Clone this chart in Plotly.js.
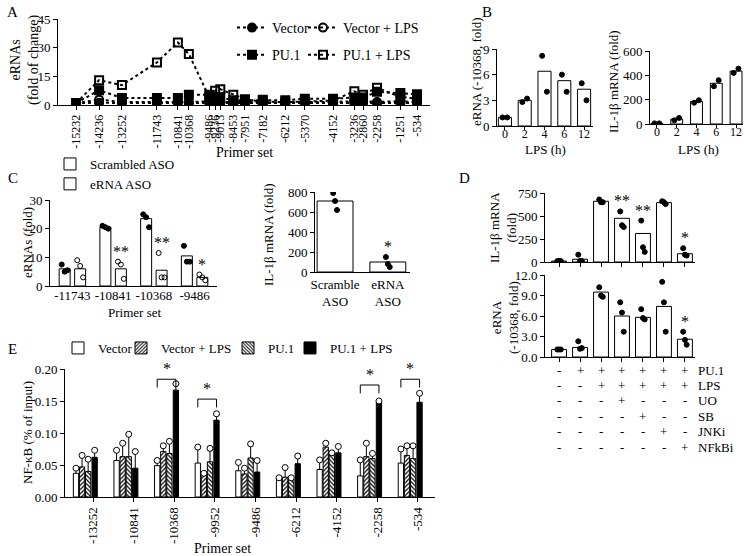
<!DOCTYPE html>
<html>
<head>
<meta charset="utf-8">
<script src="https://cdn.plot.ly/plotly-3.0.1.min.js"></script>
<style>body{margin:0;background:#fff}#chart{width:745px;height:556px}</style>
</head>
<body>
<div id="chart"></div>
<script>
// ---- Panel A: eRNAs along the locus
const primerA = [-15232,-14236,-13252,-11743,-10841,-10368,-9486,-9236,-9013,-8453,-7951,-7182,-6212,-5370,-4152,-3236,-2860,-2258,-1251,-534];
const vectorA    = [1,1.2,1,1,1,1,1,1,1,1,1,1,1,1,1,1,1,1,1,1];
const vectorLpsA = [1,2.8,1.6,1.6,1.5,1.5,2,2,1.6,1.5,1.5,1.5,1.5,1.5,1.6,2,2,1.6,2,1.5];
const pu1A       = [1,7.7,3.7,3.7,3.7,5.4,5.4,4.2,4,2.5,2.5,2.8,2.5,3.3,3.3,3.9,3.9,6.9,6.3,5.6];
const pu1LpsA    = [1,13,10.4,22.3,32.7,26.7,4,7.4,8.3,5.4,3,1.8,1.5,1.8,2.3,7.2,5.4,9,4.2,3.3];

// ---- Panel B: LPS time course
const lpsHours = ['0','2','4','6','12'];
const eRnaB = [1,3,6.4,5.3,4.3];
const eRnaBPts = [[1,1],[2.8,3.2],[8.2,4],[6,4],[5,3]];
const il1bB = [5,40,185,335,435];
const il1bBPts = [[5,5],[30,50],[175,195],[310,360],[420,455]];

// ---- Panel C: ASO knockdown
const primerC = ['-11743','-10841','-10368','-9486'];
const scrambledC = [6,20.5,23.5,10.5];
const scrambledCPts = [[7.5,5,5.5],[21,20.5,20],[25,24,20.5],[14,8.5,8.5]];
const asoC = [6,6,5.5,3];
const asoCPts = [[9,7,3],[8.5,7.5,2.5],[11.5,3,3],[4,3,2]];
const asoCStars = ['','**','**','*'];
const asoLabels = ['Scramble<br>ASO','eRNA<br>ASO'];
const il1bC = [710,100];
const il1bCPts = [[790,710,620],[150,80,50]];
const il1bCStars = ['','*'];

// ---- Panel D: inhibitors
const il1bD = [10,30,660,475,310,645,90];
const il1bDPts = [[10,10,10],[80,10,10],[680,650,650],[550,400,380],[450,160,110],[660,650,630],[150,80,70]];
const il1bDStars = ['','','','**','**','','*'];
const eRnaD = [1.1,1.4,9.5,6,5.8,7.4,2.6];
const eRnaDPts = [[1.1,1.1,1.1],[2.3,1.2,1.3],[10.2,9,8.8],[8,6.5,3.7],[7,5.7,5.5],[11,8,3.7],[3.7,2.5,1.8]];
const eRnaDStars = ['','','','','','','*'];
const treatRows = ['PU.1','LPS','UO','SB','JNKi','NFkBi'];
const treatSigns = [
  ['-','+','+','+','+','+','+'],
  ['-','-','+','+','+','+','+'],
  ['-','-','-','+','-','-','-'],
  ['-','-','-','-','+','-','-'],
  ['-','-','-','-','-','+','-'],
  ['-','-','-','-','-','-','+']
];

// ---- Panel E: NF-kB ChIP
const primerE = ['-13252','-10841','-10368','-9952','-9486','-6212','-4152','-2258','-534'];
const groupsE = ['Vector','Vector + LPS','PU.1','PU.1 + LPS'];
const meanE = [
  [0.037,0.057,0.049,0.053,0.041,0.030,0.043,0.033,0.053],
  [0.047,0.063,0.071,0.035,0.036,0.031,0.078,0.063,0.065],
  [0.040,0.063,0.068,0.055,0.061,0.028,0.065,0.060,0.060],
  [0.062,0.045,0.167,0.120,0.039,0.052,0.069,0.148,0.148]
];
const upperE = [
  [0.045,0.073,0.057,0.078,0.054,0.030,0.058,0.058,0.075],
  [0.065,0.084,0.080,0.037,0.045,0.046,0.084,0.084,0.080],
  [0.059,0.098,0.087,0.076,0.083,0.030,0.069,0.068,0.080],
  [0.073,0.071,0.177,0.130,0.057,0.064,0.079,0.150,0.162]
];
const sigE = [{g:2,y:0.184},{g:3,y:0.153},{g:7,y:0.175},{g:8,y:0.184}];

const FONT = 'Liberation Serif';
const W = 745, H = 556;
const dx = (a,b) => [a/W, b/W];
const dy = (top,bottom) => [1-bottom/H, 1-top/H];

function axis(extra) {
  return Object.assign({
    showline:true, linecolor:'#000', linewidth:1, ticks:'outside', ticklen:4,
    tickcolor:'#000', showgrid:false, zeroline:false, fixedrange:true,
    tickfont:{family:FONT, size:13, color:'#000'}
  }, extra);
}

const traces = [];
const annotations = [];
const shapes = [];

// Panel A traces
const seriesA = [
  {name:'Vector', y:vectorA, sym:'circle', legend:'legend'},
  {name:'PU.1', y:pu1A, sym:'square', legend:'legend'},
  {name:'Vector + LPS', y:vectorLpsA, sym:'circle-open', legend:'legend2'},
  {name:'PU.1 + LPS', y:pu1LpsA, sym:'square-open', legend:'legend2'}
];
seriesA.forEach((s,i) => {
  traces.push({
    type:'scatter', mode:'lines+markers', x:primerA, y:s.y, name:s.name,
    xaxis:'x', yaxis:'y', legend:s.legend, legendgroup:'a'+i,
    line:{color:'#000', width:2, dash:'dot'},
    marker:{symbol:s.sym, size:8, color:'#000', line:{color:'#000', width:2}}
  });
});

// simple bar panel helper
const jit = n => n === 2 ? [-0.12,0.12] : [-0.12,0,0.12];
function barPanel(ax, vals, pts, opts) {
  const xs = vals.map((v,i) => i + (opts.shift || 0));
  traces.push({
    type:'bar', x:xs, y:vals, width:opts.width, xaxis:'x'+ax, yaxis:'y'+ax,
    marker:{color:opts.fill || '#fff', line:{color:'#000', width:1}},
    showlegend:!!opts.name, name:opts.name, legend:opts.legend, hoverinfo:'y'
  });
  const px = [], py = [];
  pts.forEach((p,i) => {
    const j = jit(p.length);
    p.forEach((v,k) => { px.push(xs[i] + j[k]*(opts.jit || 1)); py.push(v); });
  });
  traces.push({
    type:'scatter', mode:'markers', x:px, y:py, xaxis:'x'+ax, yaxis:'y'+ax, showlegend:false,
    marker:{symbol:opts.open ? 'circle-open' : 'circle', size:5, color:'#000', line:{color:'#000', width:1}}
  });
  if (opts.stars) {
    opts.stars.forEach((s,i) => {
      if (!s) return;
      annotations.push({xref:'x'+ax, yref:'y'+ax, x:xs[i], y:Math.max(...pts[i]),
        text:s, showarrow:false, xanchor:'center', yanchor:'bottom',
        font:{family:FONT, size:16, color:'#000'}});
    });
  }
}

// Panel B
barPanel(2, eRnaB, eRnaBPts, {width:0.66});
barPanel(3, il1bB, il1bBPts, {width:0.6});
// Panel C
barPanel(4, scrambledC, scrambledCPts, {width:0.27, shift:-0.19, name:'Scrambled ASO', legend:'legend3', jit:0.6});
barPanel(4, asoC, asoCPts, {width:0.27, shift:0.19, name:'eRNA ASO', legend:'legend3', open:true, stars:asoCStars, jit:0.6});
barPanel(5, il1bC, il1bCPts, {width:0.68, stars:il1bCStars, jit:0.3});
// Panel D
barPanel(6, il1bD, il1bDPts, {width:0.71, stars:il1bDStars, jit:0.7});
barPanel(7, eRnaD, eRnaDPts, {width:0.71, stars:eRnaDStars, jit:0.7});

// Panel E
const centersE = [-0.42,-0.27,-0.12,0.04];
const widthE = 0.13;
const legendsE = ['legend4','legend5','legend6','legend7'];
const markE = [
  {color:'#fff'},
  {color:'#fff', pattern:{shape:'/', fgcolor:'#000', size:3, solidity:0.4}},
  {color:'#fff', pattern:{shape:'\\', fgcolor:'#000', size:3, solidity:0.4}},
  {color:'#000'}
];
groupsE.forEach((g,k) => {
  const xs = primerE.map((p,i) => i + centersE[k]);
  traces.push({
    type:'bar', x:xs, y:meanE[k], width:widthE, name:g, xaxis:'x8', yaxis:'y8', legend:legendsE[k],
    marker:Object.assign({line:{color:'#000', width:1}}, markE[k]),
    error_y:{type:'data', symmetric:false, array:upperE[k].map((u,i) => u - meanE[k][i]),
      arrayminus:meanE[k].map(() => 0), width:0, thickness:1, color:'#000'}
  });
  traces.push({
    type:'scatter', mode:'markers', x:xs, y:upperE[k], xaxis:'x8', yaxis:'y8', showlegend:false,
    marker:{symbol:'circle', size:6, color:'#fff', line:{color:'#000', width:1}}
  });
});
sigE.forEach(s => {
  const x0 = s.g + centersE[0], x1 = s.g + centersE[3];
  shapes.push({type:'path', xref:'x8', yref:'y8',
    path:`M ${x0},${s.y-0.013} L ${x0},${s.y} L ${x1},${s.y} L ${x1},${s.y-0.013}`,
    line:{color:'#000', width:1}});
  annotations.push({xref:'x8', yref:'y8', x:(x0+x1)/2, y:s.y, text:'*', showarrow:false,
    xanchor:'center', yanchor:'bottom', font:{family:FONT, size:16, color:'#000'}});
});

// Panel D treatment table
treatRows.forEach((r,ri) => {
  const yp = 1 - (370 + ri*15.4)/H;
  treatSigns[ri].forEach((s,ci) => {
    annotations.push({xref:'x7', yref:'paper', x:ci, y:yp, text:s, showarrow:false,
      xanchor:'center', yanchor:'middle', font:{family:FONT, size:13, color:'#000'}});
  });
  annotations.push({xref:'paper', yref:'paper', x:696/W, y:yp, xanchor:'left', yanchor:'middle',
    text:r, showarrow:false, font:{family:FONT, size:13, color:'#000'}});
});

// text labels in pixel positions
function label(text, x, y, opts) {
  annotations.push(Object.assign({xref:'paper', yref:'paper', x:x/W, y:1-y/H, text:text,
    xanchor:'center', yanchor:'middle',
    showarrow:false, font:{family:FONT, size:13, color:'#000'}}, opts || {}));
}
const letterFont = {family:FONT, size:15, color:'#000'};
label('A', 13, 12, {font:letterFont});
label('B', 487, 12, {font:letterFont});
label('C', 13, 178, {font:letterFont});
label('D', 464, 178, {font:letterFont});
label('E', 13, 349, {font:letterFont});

label('eRNAs<br>(fold of change)', 25, 60, {textangle:-90, font:{family:FONT, size:14, color:'#000'}});
label('Primer set', 244, 152, {font:{family:FONT, size:14, color:'#000'}});
label('eRNA (-10368, fold)', 477, 72, {textangle:-90});
label('LPS (h)', 545, 149);
label('IL-1β mRNA (fold)', 614, 82, {textangle:-90});
label('LPS (h)', 698, 149);
label('eRNAs (fold)', 28, 242, {textangle:-90});
label('Primer set', 134, 312);
label('IL-1β mRNA (fold)', 268, 235, {textangle:-90});
label('IL-1β mRNA<br>(fold)', 503, 227, {textangle:-90});
label('eRNA<br>(-10368, fold)', 505, 318, {textangle:-90});
label('NF-κB (% of input)', 27, 433, {textangle:-90});
label('Primer set', 222, 548, {font:{family:FONT, size:14, color:'#000'}});

const legendBase = {xanchor:'left', yanchor:'top', bgcolor:'rgba(0,0,0,0)',
  font:{family:FONT, size:14, color:'#000'}, traceorder:'grouped', tracegroupgap:6, itemwidth:30};
const legendE = x => ({orientation:'h', xanchor:'left', yanchor:'top', x:x/W, y:1-333/H,
  bgcolor:'rgba(0,0,0,0)', font:{family:FONT, size:13, color:'#000'}, itemwidth:30});

const layout = {
  width:W, height:H, margin:{l:0, r:0, t:0, b:0},
  paper_bgcolor:'#fff', plot_bgcolor:'#fff', barmode:'overlay', showlegend:true,
  font:{family:FONT, size:13, color:'#000'},
  legend:Object.assign({}, legendBase, {x:232/W, y:1-12/H}),
  legend2:Object.assign({}, legendBase, {x:303/W, y:1-12/H}),
  legend3:Object.assign({}, legendBase, {x:50/W, y:1-149/H, tracegroupgap:0, font:{family:FONT, size:13, color:'#000'}}),
  legend4:legendE(58),
  legend5:legendE(121),
  legend6:legendE(228),
  legend7:legendE(290),
  xaxis:axis({domain:dx(58,430), range:[-16008,26], tickvals:primerA, ticktext:primerA.map(String),
    tickangle:-90, anchor:'y', tickfont:{family:FONT, size:12, color:'#000'}}),
  yaxis:axis({domain:dy(19,105), range:[0,45], tickvals:[0,15,30,45], anchor:'x'}),
  xaxis2:axis({domain:dx(497,593), range:[-0.4,4.45], tickvals:[0,1,2,3,4], ticktext:lpsHours, anchor:'y2',
    ticklen:3, ticklabelstandoff:-6, tickfont:{family:FONT, size:12, color:'#000'}}),
  yaxis2:axis({domain:dy(49,126), range:[0,9], dtick:3, anchor:'x2'}),
  xaxis3:axis({domain:dx(650,743), range:[-0.35,4.35], tickvals:[0,1,2,3,4], ticktext:lpsHours, anchor:'y3',
    ticklen:3, ticklabelstandoff:-6, tickfont:{family:FONT, size:12, color:'#000'}}),
  yaxis3:axis({domain:dy(51,124), range:[0,600], dtick:200, anchor:'x3'}),
  xaxis4:axis({domain:dx(50,217), range:[-0.55,3.55], tickvals:[0,1,2,3], ticktext:primerC, ticks:'', anchor:'y4',
    ticklabelstandoff:-3}),
  yaxis4:axis({domain:dy(200,286), range:[0,30], dtick:10, anchor:'x4'}),
  xaxis5:axis({domain:dx(315,410), range:[-0.38,1.42], tickvals:[0,1], ticktext:asoLabels, ticks:'', anchor:'y5'}),
  yaxis5:axis({domain:dy(192,272), range:[0,800], dtick:200, anchor:'x5'}),
  xaxis6:axis({domain:dx(545,695), range:[-0.67,6.48], tickvals:[0,1,2,3,4,5,6], showticklabels:false, anchor:'y6'}),
  yaxis6:axis({domain:dy(193,262), range:[0,750], dtick:250, anchor:'x6'}),
  xaxis7:axis({domain:dx(545,695), range:[-0.67,6.48], tickvals:[0,1,2,3,4,5,6], showticklabels:false, anchor:'y7'}),
  yaxis7:axis({domain:dy(275,357), range:[0,12], dtick:3, tickformat:'.1f', anchor:'x7'}),
  xaxis8:axis({domain:dx(65,435), range:[-0.69,8.42], tickvals:[0,1,2,3,4,5,6,7,8], ticktext:primerE,
    tickangle:-90, anchor:'y8'}),
  yaxis8:axis({domain:dy(369,497), range:[0,0.2], dtick:0.05, tickformat:'.2f', anchor:'x8'}),
  annotations:annotations,
  shapes:shapes
};

Plotly.newPlot('chart', traces, layout, {displayModeBar:false, staticPlot:true});
</script>
</body>
</html>
